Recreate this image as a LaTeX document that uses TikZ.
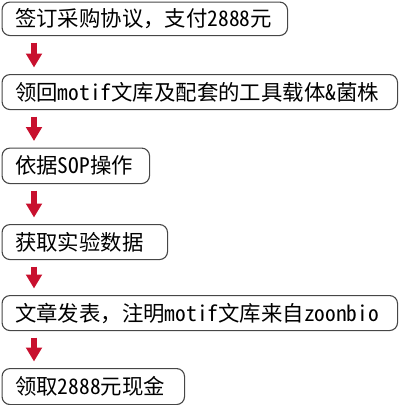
\documentclass[tikz,border=0pt]{standalone}
\usepackage{fontspec}
\setmainfont[RawFeature={+hwid}]{Noto Sans CJK SC}
\newfontfamily\fullw{Noto Sans CJK SC}
\newcommand{\fwcomma}{{\fullw ，}}
\usetikzlibrary{arrows.meta}
\definecolor{arrred}{RGB}{200,16,46}
\definecolor{boxline}{RGB}{70,70,70}
\tikzset{
  box/.style={draw=boxline, line width=1.1pt, rounded corners=8pt, rectangle, inner sep=0pt, anchor=north west},
  txt/.style={inner sep=0pt, anchor=west, font=\fontsize{21.4}{24}\selectfont},
  arr/.style={draw=arrred, line width=6.5pt, -{Triangle[width=15.5pt,length=14pt]}, shorten <=6.5pt, shorten >=6.5pt}
}
\begin{document}
\begin{tikzpicture}[x=1pt,y=-1pt]
\useasboundingbox (0,0) rectangle (400,405);
\node[box, minimum width=285.5pt, minimum height=33.5pt] (b1) at (1.5,1.5) {};
\node[box, minimum width=395.5pt, minimum height=35pt] (b2) at (1.5,74) {};
\node[box, minimum width=147.5pt, minimum height=35.5pt] (b3) at (1.5,147.5) {};
\node[box, minimum width=165.5pt, minimum height=35pt] (b4) at (1.5,224) {};
\node[box, minimum width=395.5pt, minimum height=35pt] (b5) at (1.5,295) {};
\node[box, minimum width=182.5pt, minimum height=36pt] (b6) at (1.5,368) {};
\node[txt] (t1) at ([xshift=13.5pt]b1.west) {签订采购协议\fwcomma 支付2888元};
\node[txt] (t2) at ([xshift=13.5pt]b2.west) {领回motif文库及配套的工具载体\&菌株};
\node[txt] (t3) at ([xshift=13.5pt]b3.west) {依据SOP操作};
\node[txt] (t4) at ([xshift=13.5pt]b4.west) {获取实验数据};
\node[txt] (t5) at ([xshift=13.5pt]b5.west) {文章发表\fwcomma 注明motif文库来自zoonbio};
\node[txt] (t6) at ([xshift=13.5pt]b6.west) {领取2888元现金};
\draw[arr] ([xshift=32.5pt]b1.south west) -- ([xshift=32.5pt]b2.north west);
\draw[arr] ([xshift=32.5pt]b2.south west) -- ([xshift=32.5pt]b3.north west);
\draw[arr] ([xshift=32.5pt]b3.south west) -- ([xshift=32.5pt]b4.north west);
\draw[arr] ([xshift=32.5pt]b4.south west) -- ([xshift=32.5pt]b5.north west);
\draw[arr] ([xshift=32.5pt]b5.south west) -- ([xshift=32.5pt]b6.north west);
\end{tikzpicture}
\end{document}
